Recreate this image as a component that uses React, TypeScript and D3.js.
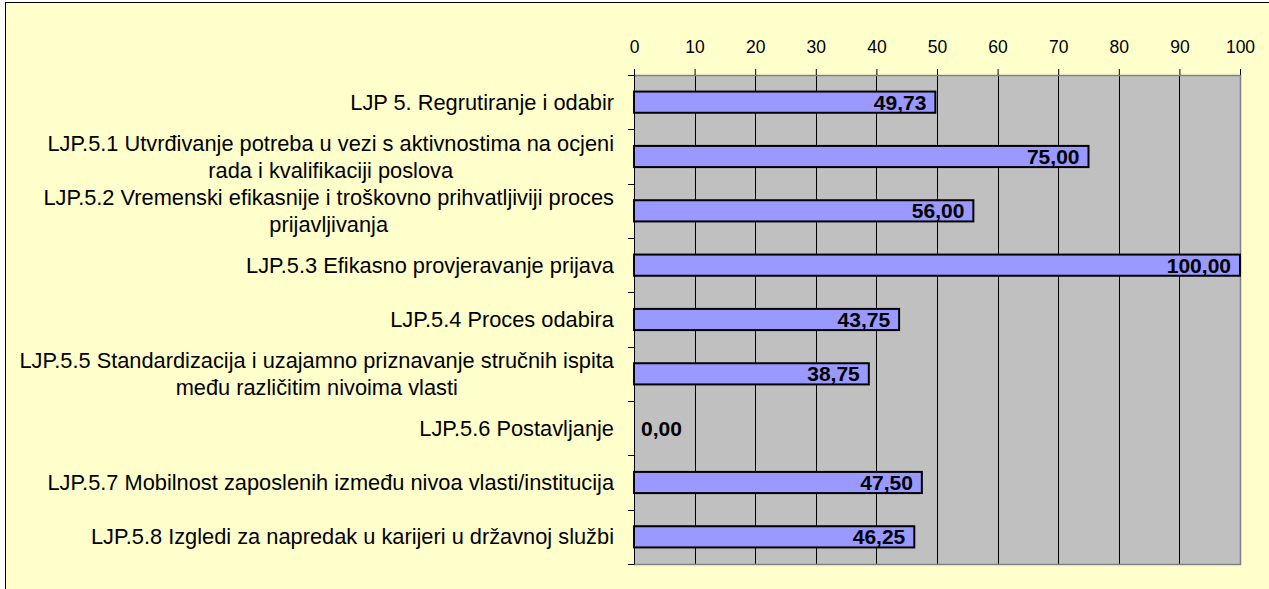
import React, { useRef, useEffect } from 'react';
import * as d3 from 'd3';

const categories = [
  ['LJP 5. Regrutiranje i odabir'],
  ['LJP.5.1 Utvrđivanje potreba u vezi s aktivnostima na ocjeni', 'rada i kvalifikaciji poslova'],
  ['LJP.5.2 Vremenski efikasnije i troškovno prihvatljiviji proces', 'prijavljivanja'],
  ['LJP.5.3 Efikasno provjeravanje prijava'],
  ['LJP.5.4 Proces odabira'],
  ['LJP.5.5 Standardizacija i uzajamno priznavanje stručnih ispita', 'među različitim nivoima vlasti'],
  ['LJP.5.6 Postavljanje'],
  ['LJP.5.7 Mobilnost zaposlenih između nivoa vlasti/institucija'],
  ['LJP.5.8 Izgledi za napredak u karijeri u državnoj službi'],
];
const values = [49.73, 75.0, 56.0, 100.0, 43.75, 38.75, 0.0, 47.5, 46.25];
const ticks = [0, 10, 20, 30, 40, 50, 60, 70, 80, 90, 100];

const W = 1269;
const H = 589;
const FONT = 'Arial, "Liberation Sans", sans-serif';

const App = () => {
  const svgRef = useRef<SVGSVGElement>(null);

  useEffect(() => {
    if (!svgRef.current) return;
    const svg = d3.select(svgRef.current);
    svg.selectAll('*').remove();

    const left = 634, right = 1240, top = 75, bottom = 564;

    // chart frame
    svg.append('rect')
      .attr('x', 5.5).attr('y', 2.5)
      .attr('width', 1400).attr('height', 800)
      .attr('fill', '#FFFFCC')
      .attr('stroke', '#000');

    const x = d3.scaleLinear().domain([0, 100]).range([left, right]);
    const y = d3.scaleBand<number>()
      .domain(d3.range(categories.length))
      .range([top, bottom])
      .paddingInner(0.61)
      .paddingOuter(0.305);
    const band = (bottom - top) / categories.length;

    // plot area
    svg.append('rect')
      .attr('x', left).attr('y', top)
      .attr('width', right - left).attr('height', bottom - top)
      .attr('fill', '#C0C0C0');

    // grid
    svg.append('g')
      .selectAll('line')
      .data(ticks.filter(t => t > 0 && t < 100))
      .join('line')
      .attr('x1', d => Math.round(x(d)) + 0.5)
      .attr('x2', d => Math.round(x(d)) + 0.5)
      .attr('y1', top).attr('y2', bottom)
      .attr('stroke', '#000').attr('stroke-width', 1);

    // plot border (right/bottom grey)
    svg.append('path')
      .attr('d', `M${left},${top + 0.5}H${right + 0.5}V${bottom + 0.5}H${left}`)
      .attr('fill', 'none')
      .attr('stroke', '#808080')
      .attr('stroke-width', 1.5);

    // top axis
    const ax = svg.append('g')
      .attr('transform', `translate(0,${top})`)
      .call(d3.axisTop(x).tickValues(ticks).tickSize(6).tickSizeOuter(0).tickPadding(16));
    ax.select('.domain').attr('stroke', '#808080');
    ax.selectAll('.tick line').attr('stroke', '#000');
    ax.selectAll('.tick text')
      .attr('font-family', FONT)
      .attr('font-size', 17.5)
      .attr('fill', '#000');

    // left axis line + category ticks
    svg.append('line')
      .attr('x1', left + 0.5).attr('x2', left + 0.5)
      .attr('y1', top - 6).attr('y2', bottom + 0.5)
      .attr('stroke', '#000');
    svg.append('g')
      .selectAll('line')
      .data(d3.range(categories.length + 1))
      .join('line')
      .attr('x1', left - 6).attr('x2', left)
      .attr('y1', d => Math.round(top + d * band) + 0.5)
      .attr('y2', d => Math.round(top + d * band) + 0.5)
      .attr('stroke', '#000');

    // category labels
    const labelRight = 614;
    const lineH = 27;
    const catSize = 21.8;
    categories.forEach((lines, i) => {
      const cy = (y(i) as number) + y.bandwidth() / 2;
      const g = svg.append('g');
      const t0 = g.append('text')
        .attr('font-family', FONT)
        .attr('font-size', catSize)
        .attr('fill', '#000')
        .attr('dominant-baseline', 'central')
        .text(lines[0]);
      const w0 = (t0.node() as SVGTextElement).getComputedTextLength();
      if (lines.length === 1) {
        t0.attr('x', labelRight).attr('y', cy).attr('text-anchor', 'end');
      } else {
        const mid = labelRight - w0 / 2;
        t0.attr('x', mid).attr('y', cy - lineH / 2).attr('text-anchor', 'middle');
        g.append('text')
          .attr('font-family', FONT)
          .attr('font-size', catSize)
          .attr('fill', '#000')
          .attr('dominant-baseline', 'central')
          .attr('x', mid).attr('y', cy + lineH / 2)
          .attr('text-anchor', 'middle')
          .text(lines[1]);
      }
    });

    // bars
    const barData = values.map((v, i) => ({ v, i })).filter(d => d.v > 0);
    svg.append('g')
      .selectAll('rect')
      .data(barData)
      .join('rect')
      .attr('x', x(0))
      .attr('y', d => y(d.i) as number)
      .attr('width', d => x(d.v) - x(0))
      .attr('height', y.bandwidth())
      .attr('fill', '#9999FF')
      .attr('stroke', '#000')
      .attr('stroke-width', 2);

    // value labels
    const fmt = (v: number) => v.toFixed(2).replace('.', ',');
    svg.append('g')
      .selectAll('text')
      .data(values)
      .join('text')
      .attr('x', d => (d > 0 ? x(d) - 9 : x(0) + 7))
      .attr('y', (d, i) => (y(i) as number) + y.bandwidth() / 2)
      .attr('text-anchor', d => (d > 0 ? 'end' : 'start'))
      .attr('dominant-baseline', 'central')
      .attr('font-family', FONT)
      .attr('font-size', 21)
      .attr('font-weight', 'bold')
      .attr('fill', '#000')
      .text(d => fmt(d));
  }, []);

  return (
    <div style={{ position: 'absolute', left: 0, top: 0 }}>
      <svg ref={svgRef} width={W} height={H} style={{ display: 'block', background: '#fff' }} />
    </div>
  );
};

export default App;
